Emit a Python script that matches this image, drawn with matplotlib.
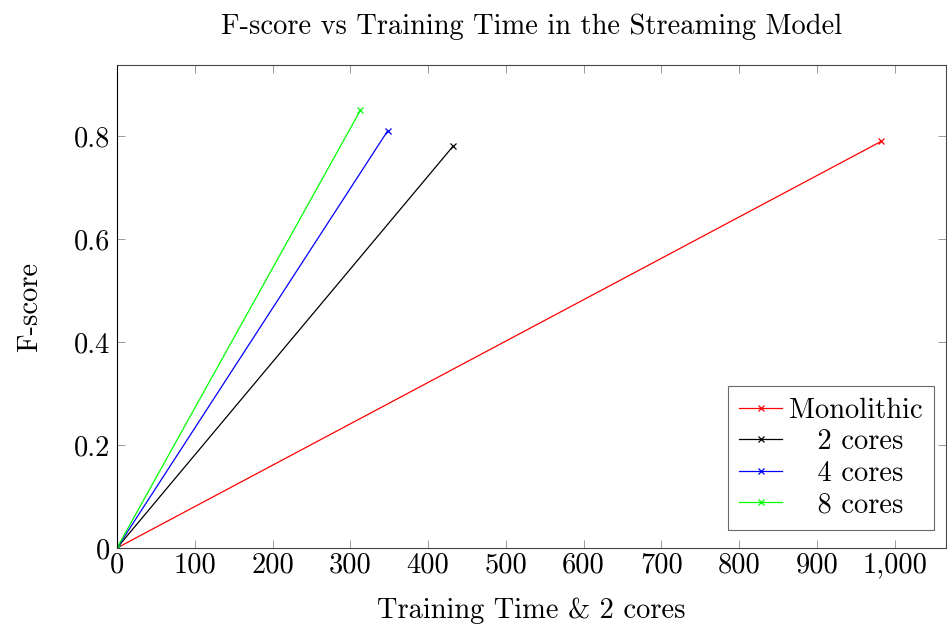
import matplotlib
matplotlib.use("Agg")
import matplotlib.pyplot as plt
from matplotlib.ticker import FuncFormatter

plt.rcParams['font.family'] = 'serif'
plt.rcParams['font.serif'] = ['cmr10', 'DejaVu Serif']
plt.rcParams['axes.formatter.use_mathtext'] = True
plt.rcParams['mathtext.fontset'] = 'cm'

# data
series = ['Monolithic', '2 cores', '4 cores', '8 cores']
colors = ['red', 'black', 'blue', '#00ff00']
times = [[0, 983], [0, 432], [0, 348], [0, 313]]
fscores = [[0, 0.79], [0, 0.78], [0, 0.81], [0, 0.85]]

fs = 20.5
fig = plt.figure(figsize=(9.47, 6.25), dpi=100)
ax = fig.add_axes([0.1235, 0.1232, 0.8755, 0.7728])

for name, c, t, f in zip(series, colors, times, fscores):
    ax.plot(t, f, color=c, lw=0.9, marker='x', ms=5, mew=0.9, label=name)

ax.set_xlim(0, 1066)
ax.set_ylim(0, 0.938)
ax.set_xticks(range(0, 1001, 100))
ax.set_yticks([0, 0.2, 0.4, 0.6, 0.8])
ax.xaxis.set_major_formatter(FuncFormatter(lambda v, p: f"{int(v):,}"))
ax.yaxis.set_major_formatter(FuncFormatter(lambda v, p: "0" if v == 0 else f"{v:.1f}"))
ax.tick_params(direction='in', top=True, right=True, length=6, width=0.7,
               color='#999999', labelsize=fs)
ax.tick_params(axis='x', pad=3)
ax.tick_params(axis='y', pad=5)
for s in ax.spines.values():
    s.set_linewidth(0.8)
    s.set_color('#444444')
ax.spines['left'].set_color('black')

ax.set_xlabel('Training Time & 2 cores', fontsize=fs, labelpad=14)
ax.set_ylabel('F-score', fontsize=fs, labelpad=22)
ax.set_title('F-score vs Training Time in the Streaming Model', fontsize=fs, pad=22)

leg = ax.legend(loc='lower right', fontsize=fs, frameon=True, fancybox=False,
                edgecolor='#444444', handlelength=1.5, borderaxespad=0.0,
                labelspacing=0.18, handletextpad=0.25, borderpad=0.4,
                bbox_to_anchor=(0.9855, 0.038))
leg.get_frame().set_linewidth(0.8)
# pgfplots centres the legend entries
for t in leg.get_texts()[1:]:
    t.set_text('   ' + t.get_text())

fig.savefig('out.png', dpi=100)
